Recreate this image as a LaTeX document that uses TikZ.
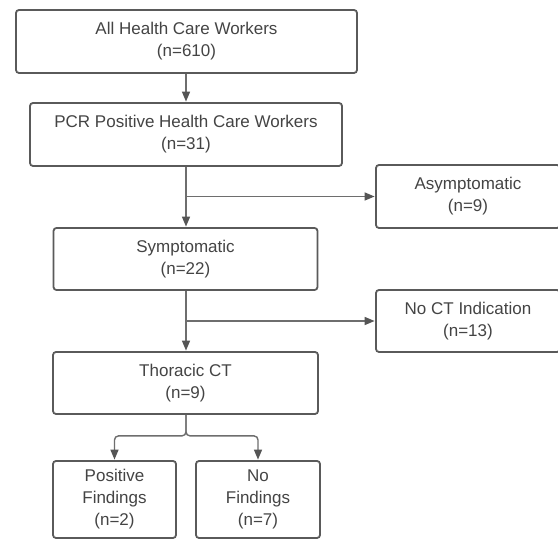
\documentclass[tikz,border=0pt]{standalone}
\usepackage{fontspec}
\setmainfont{Liberation Sans}
\usetikzlibrary{arrows.meta,calc}
\definecolor{boxline}{HTML}{5A5A5A}
\definecolor{txt}{HTML}{444444}
\definecolor{conn}{HTML}{6E6E6E}
\definecolor{tip}{HTML}{555555}
\begin{document}
\begin{tikzpicture}[x=1pt,y=-1pt,
  box/.style={draw=boxline, line width=1.8pt, rounded corners=3pt, align=center,
    text=txt, font=\fontsize{17}{22}\selectfont, inner sep=0pt, fill=white},
  conline/.style={draw=conn, line width=1.4pt},
  arr/.style={conline, -{Triangle[length=10pt,width=8pt,color=tip]}, shorten >=0.5pt}]
\clip (0,0) rectangle (558,540);
\fill[white] (0,0) rectangle (558,540);
\node[box, minimum width=341pt, minimum height=63pt] (b1) at (186.5,41.5) {All Health Care Workers\\(n=610)};
\node[box, minimum width=312pt, minimum height=63pt] (b2) at (186,134.5) {PCR Positive Health Care Workers\\(n=31)};
\node[box, minimum width=264pt, minimum height=62pt] (sym) at (185.5,259) {Symptomatic\\(n=22)};
\node[box, minimum width=184pt, minimum height=63pt] (asym) at (468,196.5) {Asymptomatic\\(n=9)};
\node[box, minimum width=184pt, minimum height=62pt] (noct) at (468,321) {No CT Indication\\(n=13)};
\node[box, minimum width=265pt, minimum height=62pt] (thor) at (185.5,383) {Thoracic CT\\(n=9)};
\node[box, minimum width=123pt, minimum height=77pt] (pos) at (114.5,499.5) {Positive\\Findings\\(n=2)};
\node[box, minimum width=124pt, minimum height=77pt] (nof) at (258,499.5) {No\\Findings\\(n=7)};
\draw[arr] (b1.south -| b2.south) -- (b2.north);
\draw[arr] (b2.south) -- (b2.south |- sym.north);
\coordinate (j1) at (b2.south |- asym.west);
\draw[arr] (j1) -- (asym.west);
\draw[arr] (sym.south -| b2.south) -- (thor.north -| b2.south);
\coordinate (j2) at (b2.south |- noct.west);
\draw[arr] (j2) -- (noct.west);
\coordinate (j3) at ($(thor.south -| b2.south)+(0,21)$);
\draw[arr, rounded corners=4pt] (thor.south -| b2.south) -- (j3) -| (pos.north);
\draw[arr, rounded corners=4pt] (thor.south -| b2.south) -- (j3) -| (nof.north);
\end{tikzpicture}
\end{document}
